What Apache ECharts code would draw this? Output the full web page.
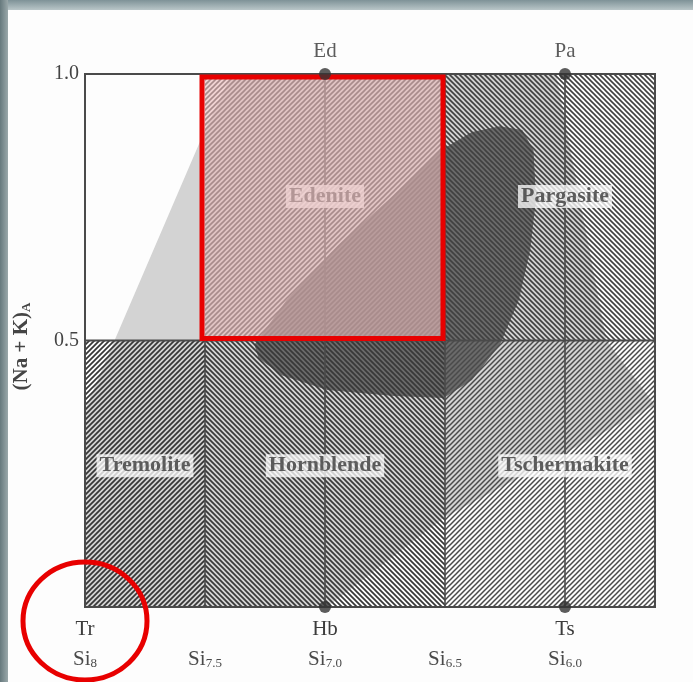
<!DOCTYPE html>
<html><head><meta charset="utf-8">
<script src="https://cdn.jsdelivr.net/npm/echarts@6/dist/echarts.min.js"></script>
<style>html,body{margin:0;padding:0;background:#fff;overflow:hidden}#c{width:693px;height:682px}</style>
</head><body><div id="c"></div>
<script>
// ---------- DATA ----------
const siTicks = [8, 7.5, 7.0, 6.5, 6.0];
const siTickNames = ['Tr', '', 'Hb', '', 'Ts'];
const siTickSubs = ['8', '7.5', '7.0', '6.5', '6.0'];
const siLeft = 8;
const siRight = 5.625;
const yTickValues = [0.5, 1.0];
const yTickLabels = ['0.5', '1.0'];

const endNames = ['Ed', 'Pa', 'Hb', 'Ts'];
const endSi = [7.0, 6.0, 7.0, 6.0];
const endY = [1.0, 1.0, 0.0, 0.0];
const endLabelled = [true, true, false, false];

const fieldNames = ['Tremolite', 'Hornblende', 'Tschermakite', 'Edenite', 'Pargasite'];
const fieldSiFrom = [8.0, 7.5, 6.5, 7.5, 6.5];
const fieldSiTo = [7.5, 6.5, 5.625, 6.5, 5.625];
const fieldYFrom = [0.0, 0.0, 0.0, 0.5, 0.5];
const fieldYTo = [0.5, 0.5, 0.5, 1.0, 1.0];
const fieldLabelSi = [7.75, 7.0, 6.0, 7.0, 6.0];
const fieldLabelY = [0.265, 0.265, 0.265, 0.77, 0.77];

const vLineSi = [7.5, 7.0, 6.5, 6.0];
const vLineFrom = [0.0, 0.0, 0.0, 0.0];
const vLineTo = [0.5, 1.0, 1.0, 1.0];
const hLineY = [0.5];

// light grey field (range of natural compositions)
const naturalSi = [8.0, 7.877, 7.5, 7.387, 6.037, 5.827, 5.625, 6.5, 6.991, 8.0];
const naturalY  = [0.371, 0.5, 0.895, 1.0, 1.0, 0.5, 0.379, 0.169, 0.0, 0.0];
// dark stippled field (most common compositions)
const commonSi = [7.294, 7.16, 6.944, 6.713, 6.528, 6.388, 6.271, 6.178, 6.131, 6.121, 6.145, 6.192, 6.271, 6.388, 6.505, 6.713, 6.991, 7.181, 7.277];
const commonY  = [0.492, 0.576, 0.679, 0.773, 0.854, 0.891, 0.902, 0.895, 0.857, 0.764, 0.670, 0.576, 0.492, 0.426, 0.392, 0.396, 0.407, 0.435, 0.467];

const highlightField = 3; // Edenite

// ---------- STYLE ----------
const SERIF = '"Liberation Serif","DejaVu Serif",serif';
function hatch(dir, color, lw) {
  const s = 5, c = document.createElement('canvas');
  c.width = s; c.height = s;
  const g = c.getContext('2d');
  g.strokeStyle = color; g.lineWidth = lw; g.beginPath();
  if (dir === '/') {
    g.moveTo(-1, s + 1); g.lineTo(s + 1, -1);
    g.moveTo(-1, 1); g.lineTo(1, -1);
    g.moveTo(s - 1, s + 1); g.lineTo(s + 1, s - 1);
  } else {
    g.moveTo(-1, -1); g.lineTo(s + 1, s + 1);
    g.moveTo(s - 1, -1); g.lineTo(s + 1, 1);
    g.moveTo(-1, s - 1); g.lineTo(1, s + 1);
  }
  g.stroke();
  return { image: c, repeat: 'repeat' };
}
const hatchFill = [
  hatch('/', '#363636', 1.7),
  hatch('\\', '#383838', 1.7),
  hatch('/', '#4a4a4a', 1.5),
  hatch('/', '#404040', 1.6),
  hatch('\\', '#404040', 1.6)
];
const LINE = '#4a4a4a';

const chart = echarts.init(document.getElementById('c'));

const fieldData = fieldNames.map((n, i) => [fieldSiFrom[i], fieldYFrom[i], fieldSiTo[i], fieldYTo[i], i]);

const option = {
  animation: false,
  backgroundColor: '#fdfdfd',
  graphic: [
    { type: 'rect', left: 0, top: 0, z: -10, shape: { width: 693, height: 10 },
      style: { fill: new echarts.graphic.LinearGradient(0, 0, 0, 1, [{offset: 0, color: '#7e9297'}, {offset: 1, color: '#b9c6c8'}]) } },
    { type: 'rect', left: 0, top: 0, z: -9, shape: { width: 8, height: 682 },
      style: { fill: new echarts.graphic.LinearGradient(0, 0, 1, 0, [{offset: 0, color: '#66797d'}, {offset: 1, color: '#9aa8aa'}]) } }
  ],
  grid: { left: 85, right: 38, top: 74, bottom: 75 },
  xAxis: {
    type: 'value', min: siRight, max: siLeft, inverse: true,
    axisLine: { show: false }, axisTick: { show: false }, splitLine: { show: false },
    axisLabel: {
      customValues: siTicks,
      margin: 7,
      formatter: v => {
        const i = siTicks.findIndex(t => Math.abs(t - v) < 1e-6);
        if (i < 0) return '';
        const top = siTickNames[i] ? '{a|' + siTickNames[i] + '}' : '{a| }';
        return top + '\n{b|Si}{s|' + siTickSubs[i] + '}';
      },
      rich: {
        a: { fontFamily: SERIF, fontSize: 21, color: '#3c3c3c', lineHeight: 30 },
        b: { fontFamily: SERIF, fontSize: 21, color: '#4a4a4a', lineHeight: 30 },
        s: { fontFamily: SERIF, fontSize: 13, color: '#4a4a4a', lineHeight: 30, padding: [10, 0, 0, 0] }
      }
    }
  },
  yAxis: {
    type: 'value', min: 0, max: 1,
    axisLine: { show: false }, axisTick: { show: false }, splitLine: { show: false },
    axisLabel: {
      customValues: yTickValues,
      margin: 6,
      fontFamily: SERIF, fontSize: 20, color: '#444',
      formatter: v => { const i = yTickValues.findIndex(t => Math.abs(t - v) < 1e-6); return i < 0 ? '' : yTickLabels[i]; }
    },
    name: '(Na + K){s|A}',
    nameLocation: 'middle', nameGap: 52, nameRotate: 90,
    nameTextStyle: {
      fontFamily: SERIF, fontSize: 21, fontWeight: 'bold', color: '#454545', padding: [0, 12, 0, 0],
      rich: { s: { fontFamily: SERIF, fontSize: 13, fontWeight: 'bold', color: '#454545', padding: [9, 0, 0, 0] } }
    }
  },
  series: [
    { // shaded composition fields
      type: 'custom', z: 1, silent: true,
      data: [[8, 0, 0], [8, 0, 1]],
      renderItem: (params, api) => {
        const k = api.value(2);
        const si = k === 0 ? naturalSi : commonSi;
        const yy = k === 0 ? naturalY : commonY;
        return { type: 'polygon', shape: { points: si.map((s, j) => api.coord([s, yy[j]])) },
          style: { fill: k === 0 ? '#d3d3d3' : '#6a6a6a' } };
      }
    },
    { // hatched fields
      type: 'custom', z: 2, silent: true,
      data: fieldData,
      encode: { x: [0, 2], y: [1, 3] },
      renderItem: (params, api) => {
        const p1 = api.coord([api.value(0), api.value(1)]);
        const p2 = api.coord([api.value(2), api.value(3)]);
        return { type: 'rect',
          shape: { x: Math.min(p1[0], p2[0]), y: Math.min(p1[1], p2[1]), width: Math.abs(p2[0] - p1[0]), height: Math.abs(p2[1] - p1[1]) },
          style: { fill: hatchFill[api.value(4)] } };
      }
    },
    { // boundary lines + frame
      type: 'custom', z: 3, silent: true,
      data: [[8, 0]],
      renderItem: (params, api) => {
        const ch = [];
        vLineSi.forEach((s, i) => {
          const a = api.coord([s, vLineFrom[i]]), b = api.coord([s, vLineTo[i]]);
          ch.push({ type: 'line', shape: { x1: a[0], y1: a[1], x2: b[0], y2: b[1] }, style: { stroke: LINE, lineWidth: 1.6 } });
        });
        hLineY.forEach(y => {
          const a = api.coord([siLeft, y]), b = api.coord([siRight, y]);
          ch.push({ type: 'line', shape: { x1: a[0], y1: a[1], x2: b[0], y2: b[1] }, style: { stroke: LINE, lineWidth: 1.8 } });
        });
        const tl = api.coord([siLeft, 1]), br = api.coord([siRight, 0]);
        ch.push({ type: 'rect', shape: { x: tl[0], y: tl[1], width: br[0] - tl[0], height: br[1] - tl[1] },
          style: { fill: 'none', stroke: LINE, lineWidth: 2 } });
        return { type: 'group', children: ch };
      }
    },
    { // field names
      type: 'scatter', z: 4, silent: true, symbolSize: 0,
      data: fieldNames.map((n, i) => [fieldLabelSi[i], fieldLabelY[i], n]),
      label: {
        show: true, position: 'inside', formatter: p => p.data[2],
        fontFamily: SERIF, fontSize: 22, fontWeight: 'bold', color: '#3a3a3a',
        backgroundColor: 'rgba(255,255,255,0.95)', padding: [1, 3, 0, 3]
      }
    },
    { // highlighted Edenite field
      type: 'custom', z: 5, silent: true,
      data: [[fieldSiFrom[highlightField], fieldYFrom[highlightField], fieldSiTo[highlightField], fieldYTo[highlightField]]],
      encode: { x: [0, 2], y: [1, 3] },
      renderItem: (params, api) => {
        const p1 = api.coord([api.value(0), api.value(3)]);
        const p2 = api.coord([api.value(2), api.value(1)]);
        const r = { x: p1[0] - 3, y: p1[1] + 3, width: p2[0] - p1[0] + 1, height: p2[1] - p1[1] - 5 };
        return { type: 'group', children: [
          { type: 'rect', shape: r, style: { fill: 'rgba(232,186,186,0.62)' } },
          { type: 'rect', shape: r, style: { fill: 'none', stroke: '#e80000', lineWidth: 5 } }
        ] };
      }
    },
    { // end-member points
      type: 'scatter', z: 6, silent: true, symbol: 'circle', symbolSize: 12,
      itemStyle: { color: '#333' },
      data: endNames.map((n, i) => ({ value: [endSi[i], endY[i]], name: n,
        label: { show: endLabelled[i], position: 'top', distance: 6, formatter: n,
          fontFamily: SERIF, fontSize: 21, color: '#333' } }))
    },
    { // red circle annotation around Tr corner
      type: 'custom', z: 7, silent: true,
      data: [[siLeft, 0]],
      renderItem: (params, api) => {
        const c = api.coord([api.value(0), api.value(1)]);
        return { type: 'ellipse', shape: { cx: c[0], cy: c[1] + 14, rx: 62, ry: 59 },
          style: { fill: 'none', stroke: '#e80000', lineWidth: 5 } };
      }
    }
  ]
};
chart.setOption(option);
</script>
</body></html>
